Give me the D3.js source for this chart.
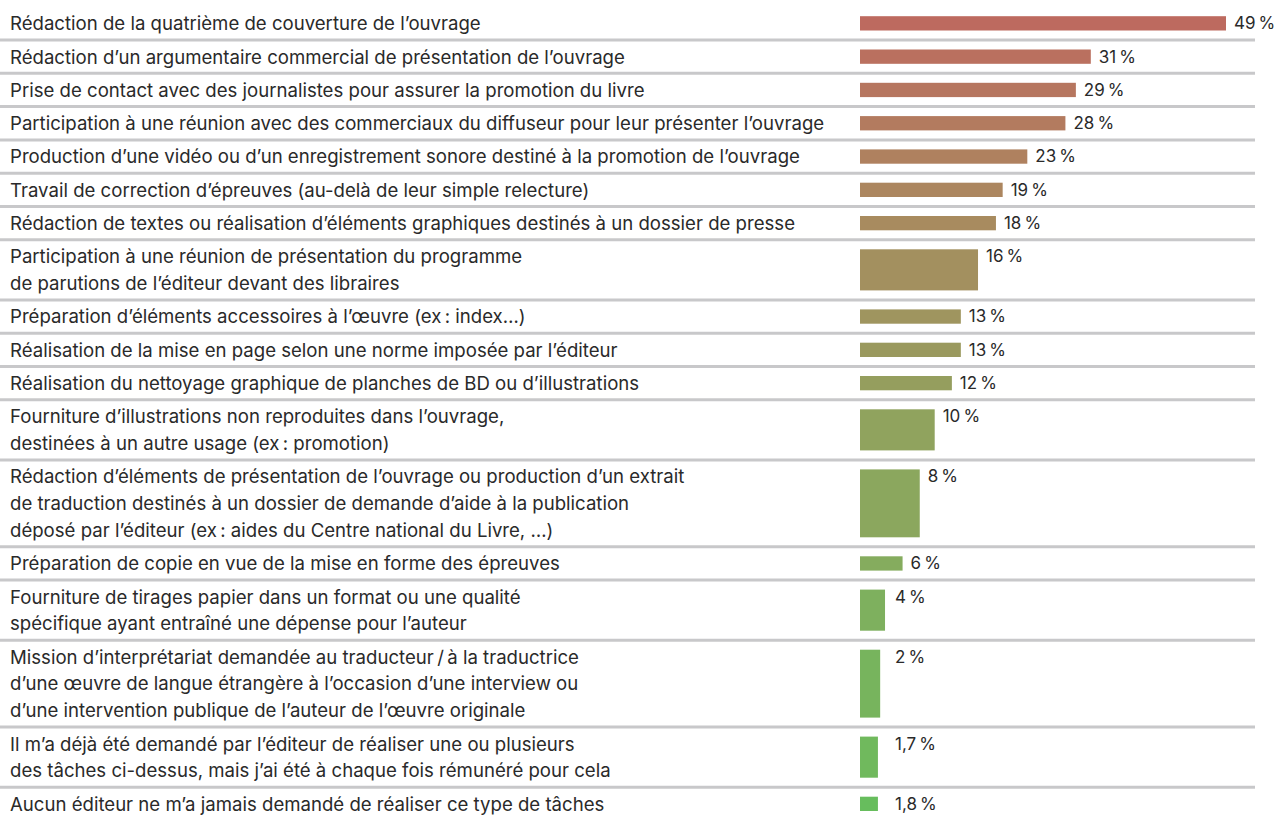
<!DOCTYPE html>
<html>
<head>
<meta charset="utf-8">
<script src="https://cdn.jsdelivr.net/npm/d3@7"></script>
<style>
  html, body { margin: 0; padding: 0; background: #fff; }
  svg { display: block; }
  text { font-family: Inter, "Noto Sans", sans-serif; }
</style>
</head>
<body>
<svg id="chart" width="1274" height="817"></svg>
<script>
// ---- Data ----
const categories = [
  "Rédaction de la quatrième de couverture de l’ouvrage",
  "Rédaction d’un argumentaire commercial de présentation de l’ouvrage",
  "Prise de contact avec des journalistes pour assurer la promotion du livre",
  "Participation à une réunion avec des commerciaux du diffuseur pour leur présenter l’ouvrage",
  "Production d’une vidéo ou d’un enregistrement sonore destiné à la promotion de l’ouvrage",
  "Travail de correction d’épreuves (au-delà de leur simple relecture)",
  "Rédaction de textes ou réalisation d’éléments graphiques destinés à un dossier de presse",
  "Participation à une réunion de présentation du programme\nde parutions de l’éditeur devant des libraires",
  "Préparation d’éléments accessoires à l’œuvre (ex\u202F: index…)",
  "Réalisation de la mise en page selon une norme imposée par l’éditeur",
  "Réalisation du nettoyage graphique de planches de BD ou d’illustrations",
  "Fourniture d’illustrations non reproduites dans l’ouvrage,\ndestinées à un autre usage (ex\u202F: promotion)",
  "Rédaction d’éléments de présentation de l’ouvrage ou production d’un extrait\nde traduction destinés à un dossier de demande d’aide à la publication\ndéposé par l’éditeur (ex\u202F: aides du Centre national du Livre, …)",
  "Préparation de copie en vue de la mise en forme des épreuves",
  "Fourniture de tirages papier dans un format ou une qualité\nspécifique ayant entraîné une dépense pour l’auteur",
  "Mission d’interprétariat demandée au traducteur\u202F/\u202Fà la traductrice\nd’une œuvre de langue étrangère à l’occasion d’une interview ou\nd’une intervention publique de l’auteur de l’œuvre originale",
  "Il m’a déjà été demandé par l’éditeur de réaliser une ou plusieurs\ndes tâches ci-dessus, mais j’ai été à chaque fois rémunéré pour cela",
  "Aucun éditeur ne m’a jamais demandé de réaliser ce type de tâches"
];
// displayed percentages
const valueLabels = ["49", "31", "29", "28", "23", "19", "18", "16", "13", "13", "12", "10", "8", "6", "4", "2", "1,7", "1,8"];
// bar lengths (percent)
const barValues = [49, 30.9, 28.9, 27.5, 22.4, 19.1, 18.2, 15.8, 13.5, 13.5, 12.3, 10, 8, 5.7, 3.35, 2.7, 2.4, 2.4];

// ---- Layout ----
const svg = d3.select("#chart");
const lineH = 26.8, rowPad = 6.5, top0 = 6.7;
const barX0 = 860;
const fontSize = 18.6, labelSize = 17;
const x = d3.scaleLinear().domain([0, 49]).range([barX0, 1226]);

const rows = categories.map((c, i) => ({ lines: c.split("\n"), label: valueLabels[i], v: barValues[i], i }));
let yAcc = top0;
rows.forEach(r => { r.h = rowPad + lineH * r.lines.length; r.y = yAcc; yAcc += r.h; });

const color = d3.scaleLinear().domain([0, rows.length - 1])
  .range(["#bd6a5f", "#67bd5d"]).interpolate(d3.interpolateLab);

const g = svg.append("g");
const row = g.selectAll("g.row").data(rows).join("g").attr("class", "row")
  .attr("transform", d => `translate(0,${d.y})`);

// separators
row.filter(d => d.i < rows.length - 1).append("line")
  .attr("x1", 0).attr("x2", 1255)
  .attr("y1", d => d.h).attr("y2", d => d.h)
  .attr("stroke", "#c8c8ca").attr("stroke-width", 3);

// category text
row.append("text")
  .attr("x", 10).attr("y", 23.5)
  .attr("font-size", fontSize).attr("fill", "#2a2a2a")
  .selectAll("tspan").data(d => d.lines).join("tspan")
  .attr("x", 10).attr("dy", (d, k) => k === 0 ? 0 : lineH)
  .text(d => d);

// bars
row.append("rect")
  .attr("x", barX0).attr("y", 9.5)
  .attr("width", d => x(d.v) - barX0)
  .attr("height", d => d.h - 19)
  .attr("fill", d => color(d.i));

// value labels
row.append("text")
  .attr("x", d => Math.max(x(d.v) + 8, 895))
  .attr("y", 22.5)
  .attr("font-size", labelSize).attr("fill", "#2a2a2a")
  .text(d => d.label + "\u202F%");
</script>
</body>
</html>
